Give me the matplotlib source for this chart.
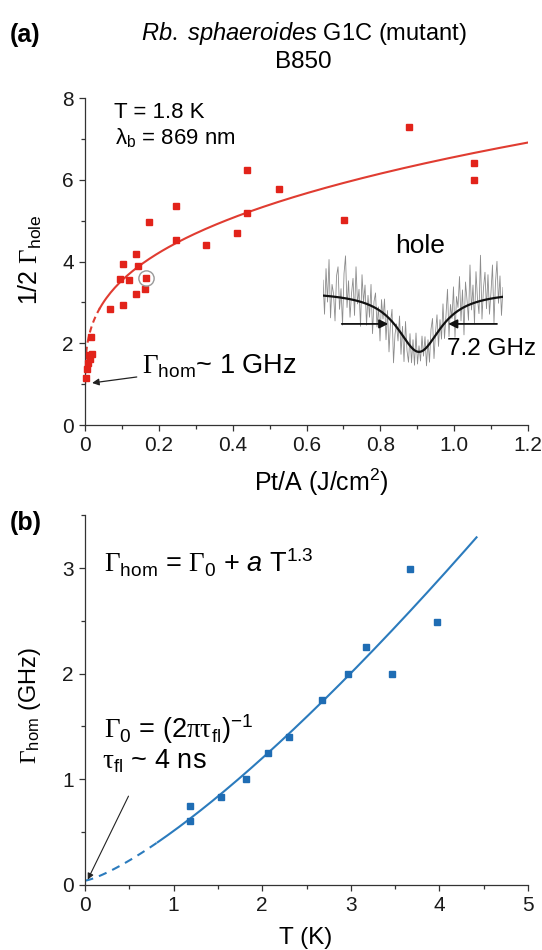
import numpy as np
import matplotlib
matplotlib.use("Agg")
import matplotlib.pyplot as plt

plt.rcParams.update({
    "font.family": ["Liberation Sans", "DejaVu Sans"],
    "mathtext.fontset": "custom",
    "mathtext.rm": "Liberation Serif",
    "mathtext.it": "Liberation Sans:italic",
    "mathtext.sf": "Liberation Sans",
    "mathtext.bf": "Liberation Sans:bold",
    "axes.linewidth": 0.9,
    "axes.edgecolor": "#333333",
    "xtick.color": "#333333",
    "ytick.color": "#333333",
    "xtick.labelcolor": "#1a1a1a",
    "ytick.labelcolor": "#1a1a1a",
})

# ---- panel (a): half hole width vs burn fluence ------------------------------
FLUENCE = [0.002, 0.005, 0.008, 0.012, 0.010, 0.020, 0.016,
           0.068, 0.103, 0.095, 0.120, 0.103, 0.139, 0.143, 0.139,
           0.163, 0.164, 0.174, 0.245, 0.245, 0.327, 0.411,
           0.438, 0.438, 0.526, 0.701, 0.878, 1.054, 1.054]
HALF_WIDTH = [1.15, 1.38, 1.52, 1.62, 1.72, 1.74, 2.16,
              2.85, 2.93, 3.57, 3.55, 3.95, 3.21, 3.90, 4.19,
              3.33, 3.59, 4.98, 4.52, 5.35, 4.40, 4.70,
              5.20, 6.25, 5.78, 5.02, 7.29, 5.99, 6.41]
CIRCLED_IDX = 16          # the point whose hole is shown in the inset

# fit guide  y = y0 + amp * x^p  (dashed below x_dash)
FIT_A_Y0, FIT_A_AMP, FIT_A_EXP = 1.0, 5.56, 0.34
FIT_A_DASH_END, FIT_A_END = 0.04, 1.2

# inset: measured hole (depth-normalised, 0.2 GHz steps) + Lorentzian fit
HOLE_START, HOLE_STEP = -12.8, 0.2
HOLE_TRACE = [
    0.18, -0.38, 0.37, -0.18, 0.52, -0.44, 0.11, -0.04, -0.49, 0.25,
    0.40, -0.30, 0.04, -0.56, 0.29, 0.58, -0.27, 0.17, -0.43, -0.04,
    0.21, -0.40, 0.40, -0.21, 0.03, -0.58, 0.27, -0.19, 0.10, -0.56,
    -0.07, -0.43, 0.11, -0.70, -0.17, -0.03, -0.59, -0.26, -0.82, -0.14,
    -0.46, -0.13, -0.80, -0.32, -1.00, -0.52, -0.30, -1.18, -0.71, -0.54,
    -0.82, -0.41, -1.04, -0.58, -1.16, -0.50, -0.98, -1.17, -0.70, -1.18,
    -0.80, -1.22, -0.69, -1.20, -0.90, -1.15, -0.74, -1.07, -0.75, -1.23,
    -0.80, -1.17, -0.63, -0.45, -1.11, -0.68, -0.39, -0.91, -0.47, -0.79,
    -0.21, -0.78, -0.40, 0.03, -0.75, -0.22, -0.45, 0.07, -0.76, -0.09,
    -0.27, 0.24, -0.49, 0.02, -0.72, 0.15, -0.14, -0.48, 0.43, -0.31,
    0.10, -0.54, 0.32, -0.13, -0.37, 0.59, -0.46, 0.05, 0.31, -0.29,
    0.27, -0.38, -0.02, 0.43, -0.52, 0.14, 0.49, -0.20, 0.25, -0.40, 0.06,
]
HOLE_FWHM = 7.2  # GHz

# ---- panel (b): homogeneous width vs temperature -----------------------------
TEMP = [1.18, 1.18, 1.53, 1.82, 2.07, 2.30, 2.68, 2.97, 3.17, 3.47, 3.67, 3.97]
GAMMA_HOM = [0.75, 0.60, 0.83, 1.00, 1.25, 1.40, 1.75, 2.00, 2.25, 2.00, 2.99, 2.49]
TAU_FL_NS = 4.0
FIT_B_AMP, FIT_B_EXP = 0.471, 1.3
FIT_B_DASH_END, FIT_B_END = 0.82, 4.42

RED, RED_LINE = "#e2231a", "#e03c31"
BLUE, BLUE_LINE = "#1f6db4", "#2b7bbd"
NOTE_FS = 19.5


def style_axes(ax):
    for s in ("top", "right"):
        ax.spines[s].set_visible(False)
    ax.tick_params(which="major", direction="out", length=4.5, width=0.9,
                   labelsize=15, pad=3.5)
    ax.tick_params(which="minor", direction="out", length=3, width=0.9)


fig = plt.figure(figsize=(5.42, 9.5), dpi=100)

# ---------------------------------------------------------------- panel (a)
ax1 = fig.add_axes([0.157, 0.5526, 0.817, 0.344])
style_axes(ax1)
xd = np.linspace(0, FIT_A_DASH_END, 60)
xs = np.linspace(FIT_A_DASH_END, FIT_A_END, 200)
ax1.plot(xd, FIT_A_Y0 + FIT_A_AMP * xd ** FIT_A_EXP, color=RED_LINE, lw=1.5,
         ls=(0, (3, 2)))
ax1.plot(xs, FIT_A_Y0 + FIT_A_AMP * xs ** FIT_A_EXP, color=RED_LINE, lw=1.5)
ax1.plot(FLUENCE, HALF_WIDTH, ls="none", marker="s", ms=5, color=RED,
         mec=RED, clip_on=False, zorder=4)
ax1.plot(FLUENCE[CIRCLED_IDX], HALF_WIDTH[CIRCLED_IDX], ls="none", marker="o",
         ms=11, mfc="none", mec="#999999", mew=1.0, zorder=5)
ax1.set_xlim(0, 1.2)
ax1.set_ylim(0, 8)
ax1.set_xticks(np.arange(0, 1.21, 0.2))
ax1.set_xticklabels(["0", "0.2", "0.4", "0.6", "0.8", "1.0", "1.2"])
ax1.set_xticks(np.arange(0.1, 1.2, 0.2), minor=True)
ax1.set_yticks([0, 2, 4, 6, 8])
ax1.set_yticks([1, 3, 5, 7], minor=True)

ax1.text(0.077, 7.52, "T = 1.8 K", fontsize=16)
ax1.text(0.082, 6.86, r"λ$_{\mathsf{b}}$ = 869 nm", fontsize=16)
ax1.annotate(r"$\Gamma_{\mathsf{hom}}$~ 1 GHz", xy=(0.019, 1.03),
             xytext=(0.155, 1.27), fontsize=NOTE_FS, va="baseline",
             arrowprops=dict(arrowstyle="-|>", color="#222222", lw=0.9,
                             mutation_scale=10, shrinkA=2, shrinkB=0))
ax1.text(0.533, -0.176, r"Pt/A (J/cm$^{\mathsf{2}}$)", transform=ax1.transAxes,
         ha="center", va="center", fontsize=18)
ax1.text(-0.124, 0.505, r"1/2 $\Gamma_{\mathsf{hole}}$", transform=ax1.transAxes,
         ha="center", va="center", rotation=90, fontsize=18)

# inset: the hole
axi = fig.add_axes([0.596, 0.6053, 0.332, 0.142])
axi.set_axis_off()
axi.patch.set_alpha(0)
freq = HOLE_START + HOLE_STEP * np.arange(len(HOLE_TRACE))
axi.plot(freq, HOLE_TRACE, color="#8c8c8c", lw=0.6)
ff = np.linspace(freq[0], freq[-1], 300)
axi.plot(ff, -1.0 / (1.0 + (2 * ff / HOLE_FWHM) ** 2), color="#111111", lw=1.6)
axi.set_xlim(freq[0], freq[-1])
axi.set_ylim(-1.38, 0.84)
arrow = dict(arrowstyle="-|>", color="#111111", lw=1.3, mutation_scale=13,
             shrinkA=0, shrinkB=0)
axi.annotate("", xy=(-4.1, -0.54), xytext=(-10.3, -0.54), arrowprops=arrow)
axi.annotate("", xy=(3.9, -0.54), xytext=(10.4, -0.54), arrowprops=arrow)
axi.text(0.2, 0.74, "hole", ha="center", va="center", fontsize=19)
axi.text(3.8, -0.95, "7.2 GHz", ha="left", va="center", fontsize=17.5,
         clip_on=False)

# ---------------------------------------------------------------- panel (b)
ax2 = fig.add_axes([0.157, 0.0686, 0.817, 0.389])
style_axes(ax2)
gamma0 = 1.0 / (2 * np.pi * TAU_FL_NS)  # GHz
td = np.linspace(0, FIT_B_DASH_END, 60)
ts = np.linspace(FIT_B_DASH_END, FIT_B_END, 200)
ax2.plot(td, gamma0 + FIT_B_AMP * td ** FIT_B_EXP, color=BLUE_LINE, lw=1.5,
         ls=(0, (4, 3)))
ax2.plot(ts, gamma0 + FIT_B_AMP * ts ** FIT_B_EXP, color=BLUE_LINE, lw=1.5)
ax2.plot(TEMP, GAMMA_HOM, ls="none", marker="s", ms=4.3, color=BLUE, mec=BLUE,
         zorder=4)
ax2.set_xlim(0, 5)
ax2.set_ylim(0, 3.5)
ax2.set_xticks([0, 1, 2, 3, 4, 5])
ax2.set_xticks(np.arange(0.5, 5, 1.0), minor=True)
ax2.set_yticks([0, 1, 2, 3])
ax2.set_yticks([0.5, 1.5, 2.5, 3.5], minor=True)

ax2.text(0.21, 2.955,
         r"$\Gamma_{\mathsf{hom}}$ = $\Gamma_{\mathsf{0}}$ + $\mathit{a}$ T$^{\mathsf{1.3}}$",
         fontsize=NOTE_FS)
ax2.text(0.21, 1.39,
         r"$\Gamma_{\mathsf{0}}$ = (2$\mathrm{\pi\tau}_{\mathsf{fl}}$)$^{\mathsf{-1}}$",
         fontsize=NOTE_FS)
ax2.text(0.19, 1.10, r"$\mathrm{\tau}_{\mathsf{fl}}$ ~ 4 ns", fontsize=NOTE_FS)
ax2.annotate("", xy=(0.03, 0.05), xytext=(0.49, 0.84),
             arrowprops=dict(arrowstyle="-|>", color="#222222", lw=0.8,
                             mutation_scale=9, shrinkA=0, shrinkB=0))
ax2.text(0.499, -0.145, "T (K)", transform=ax2.transAxes, ha="center",
         va="center", fontsize=17.5)
ax2.text(-0.124, 0.486, r"$\Gamma_{\mathsf{hom}}$ (GHz)", transform=ax2.transAxes,
         ha="center", va="center", rotation=90, fontsize=17)

# ---------------------------------------------------------------- labels
fig.text(0.56, 0.965, r"$\mathit{Rb.\ sphaeroides}$ G1C (mutant)",
         ha="center", va="center", fontsize=17)
fig.text(0.56, 0.935, "B850", ha="center", va="center", fontsize=17.5)
fig.text(0.018, 0.963, "(a)", ha="left", va="center", fontsize=18,
         fontweight="bold")
fig.text(0.018, 0.449, "(b)", ha="left", va="center", fontsize=18,
         fontweight="bold")

fig.savefig("out.png", dpi=100)
